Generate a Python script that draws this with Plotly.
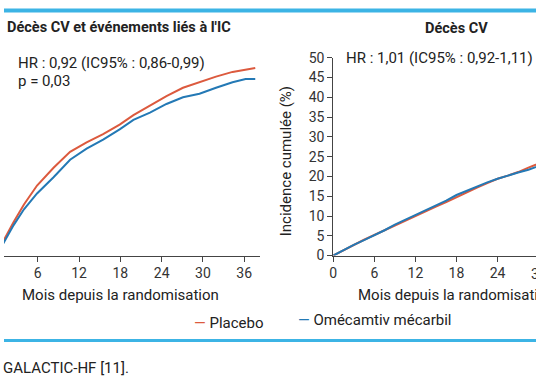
import plotly.graph_objects as go

# ---- data ----
left_months = [0, 0.5, 1.1, 2.5, 4.0, 5.9, 8.3, 10.7, 13.1, 15.5, 17.9, 19.9, 22.3, 24.7, 27.1, 29.5, 31.9, 34.3, 36.2, 37.6]
left_placebo = [0, 1.8, 4.0, 8.5, 12.9, 17.7, 22.2, 26.2, 28.6, 30.7, 33.1, 35.5, 37.9, 40.3, 42.4, 43.8, 45.2, 46.4, 47.0, 47.4]
left_omecamtiv = [0, 1.5, 3.2, 7.7, 11.7, 15.7, 19.8, 24.2, 27.0, 29.3, 31.9, 34.3, 36.1, 38.3, 40.0, 40.9, 42.4, 43.8, 44.6, 44.6]

right_months = [0, 1.5, 3, 4.5, 6, 7.5, 9, 10.5, 12, 13.5, 15, 16.5, 18, 19.5, 21, 22.5, 24, 25.5, 27, 28.5, 29.6, 31, 33]
right_placebo = [0, 1.4, 2.7, 4.0, 5.2, 6.4, 7.8, 9.0, 10.2, 11.3, 12.4, 13.5, 14.8, 16.0, 17.2, 18.3, 19.4, 20.2, 21.1, 22.2, 23.1, 24.0, 25.2]
right_omecamtiv = [0, 1.4, 2.7, 3.9, 5.1, 6.4, 7.8, 9.0, 10.2, 11.4, 12.6, 13.9, 15.3, 16.4, 17.5, 18.5, 19.4, 20.3, 21.0, 21.7, 22.3, 23.2, 24.4]

x_ticks_left = [6, 12, 18, 24, 30, 36]
x_ticks_right = [0, 6, 12, 18, 24]
y_ticks = [0, 5, 10, 15, 20, 25, 30, 35, 40, 45, 50]

RED = "#dc5a3e"
BLUE = "#2479b5"
RULE = "#3cb4e5"
TXT = "#222222"
FONT = "Roboto"

W, H = 536, 386
def px(x):
    return x / W
def py(y):
    return 1 - y / H

fig = go.Figure()
fig.add_trace(go.Scatter(x=left_months, y=left_placebo, mode="lines", line=dict(color=RED, width=2),
                         xaxis="x", yaxis="y", showlegend=False))
fig.add_trace(go.Scatter(x=left_months, y=left_omecamtiv, mode="lines", line=dict(color=BLUE, width=2),
                         xaxis="x", yaxis="y", showlegend=False))
fig.add_trace(go.Scatter(x=right_months, y=right_placebo, mode="lines", line=dict(color=RED, width=2),
                         xaxis="x2", yaxis="y2", showlegend=False))
fig.add_trace(go.Scatter(x=right_months, y=right_omecamtiv, mode="lines", line=dict(color=BLUE, width=2),
                         xaxis="x2", yaxis="y2", showlegend=False))

ydom = [py(258.3), py(51.8)]
axis_common = dict(showline=True, linecolor="#444444", linewidth=1, ticks="outside", ticklen=5,
                   tickcolor="#444444", tickwidth=1, showgrid=False, zeroline=False,
                   tickfont=dict(family=FONT, size=14, color="#333333"))

fig.update_layout(
    width=W, height=H, margin=dict(l=0, r=0, t=0, b=0),
    paper_bgcolor="white", plot_bgcolor="white",
    xaxis=dict(domain=[0, px(258)], range=[1.1, 38.3], tickvals=x_ticks_left, anchor="y", **axis_common),
    yaxis=dict(domain=ydom, range=[0, 50], visible=False, anchor="x"),
    xaxis2=dict(domain=[px(331.7), 1], range=[0, (536 - 331.7) / 6.9], tickvals=x_ticks_right, anchor="y2", **axis_common),
    yaxis2=dict(domain=ydom, range=[0, 50], tickvals=y_ticks, anchor="x2", **axis_common),
)

def ann(text, x, y, xanchor="left", size=15, bold=False, color=TXT, textangle=0, yanchor="middle"):
    if bold:
        text = "<b>" + text + "</b>"
    fig.add_annotation(text=text, x=px(x), y=py(y), xref="paper", yref="paper", showarrow=False,
                       xanchor=xanchor, yanchor=yanchor, textangle=textangle,
                       font=dict(family=FONT, size=size, color=color))

ann("Décès CV et événements liés à l'IC", 1, 20, bold=True, size=14.5)
ann("Décès CV", 456, 21, xanchor="center", bold=True, size=14.5)
ann("HR : 0,92 (IC95% : 0,86-0,99)", 12, 57)
ann("p = 0,03", 12, 76)
ann("HR : 1,01 (IC95% : 0,92-1,11)", 343, 52)
ann("Incidence cumulée (%)", 284, 160, xanchor="center", textangle=-90)
ann("Mois depuis la randomisation", 117, 299, xanchor="center")
ann("Mois depuis la randomisation", 456, 299, xanchor="center")
ann("30", 538.7, 277, xanchor="center", size=14, color="#333333")
ann("<span style='color:%s'>—</span> Placebo" % RED, 189, 329)
ann("<span style='color:%s'>—</span> Omécamtiv mécarbil" % BLUE, 294, 326)
ann("GALACTIC-HF [11].", -3, 376)

fig.add_shape(type="line", xref="paper", yref="paper", x0=0, x1=1, y0=py(2.5), y1=py(2.5),
              line=dict(color=RULE, width=4), layer="above")
fig.add_shape(type="line", xref="paper", yref="paper", x0=0, x1=1, y0=py(347), y1=py(347),
              line=dict(color=RULE, width=3))

fig.write_html("out.html", config={"displayModeBar": False},
               post_script="document.body.style.margin='0';document.body.style.overflow='hidden';")
